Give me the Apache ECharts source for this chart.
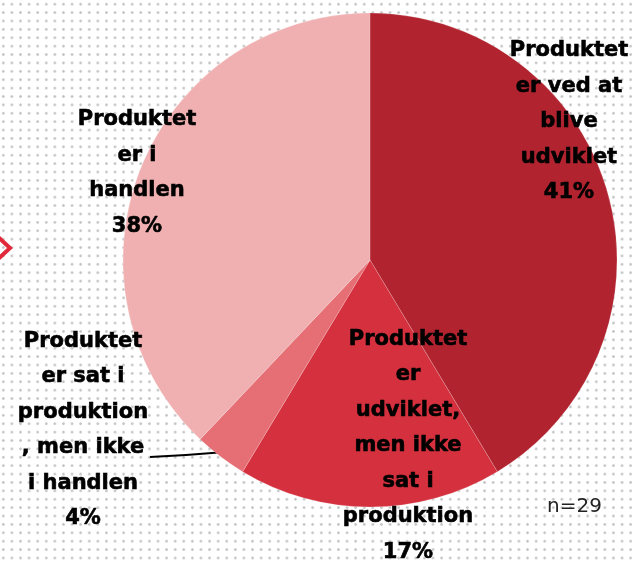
<!DOCTYPE html>
<html>
<head>
<meta charset="utf-8">
<script src="https://cdn.jsdelivr.net/npm/echarts@6/dist/echarts.min.js"></script>
<style>
  html, body { margin: 0; padding: 0; }
  body {
    background-color: #fff;
    background-image: radial-gradient(circle, #c4c4c4 1.1px, transparent 1.5px);
    background-size: 8.6px 8.4px;
    background-position: -1px 0;
  }
  #chart { width: 635px; height: 563px; }
</style>
</head>
<body>
<div id="chart"></div>
<script>
// kategorier og antal svar (n=29)
var categories = [
  'Produktet\ner ved at\nblive\nudviklet',
  'Produktet\ner\nudviklet,\nmen ikke\nsat i\nproduktion',
  'Produktet\ner sat i\nproduktion\n, men ikke\ni handlen',
  'Produktet\ner i\nhandlen'
];
var counts = [12, 5, 1, 11];
var colors = ['#b1232f', '#d4303d', '#e56f74', '#f0b0b1'];
var nText = 'n=29';

// label placering (midte af tekstblok)
var labelPos = [[569, 122], [408, 446], [83, 430], [137, 173]];

var chart = echarts.init(document.getElementById('chart'));

var data = [];
for (var i = 0; i < categories.length; i++) {
  data.push({
    name: categories[i],
    value: counts[i],
    itemStyle: { color: colors[i] },
    labelLine: { show: i === 2 }
  });
}

chart.setOption({
  animation: false,
  graphic: [
    {
      type: 'polyline',
      shape: { points: [[-3, 236], [10, 248], [-3, 260]] },
      style: { stroke: '#e1293b', lineWidth: 4, fill: null }
    },
    {
      type: 'text',
      left: 547, top: 497,
      style: { text: nText, font: '20px "DejaVu Sans"', fill: '#222' }
    }
  ],
  series: [{
    type: 'pie',
    center: [370, 260],
    radius: 247,
    startAngle: 90,
    clockwise: true,
    percentPrecision: 0,
    avoidLabelOverlap: false,
    data: data,
    itemStyle: { borderColor: 'rgba(255,255,255,0.35)', borderWidth: 0.5 },
    label: {
      show: true,
      position: 'outside',
      formatter: '{b}\n{d}%',
      color: '#000',
      fontFamily: 'DejaVu Sans',
      fontWeight: 'bold',
      fontSize: 21,
      lineHeight: 35.5,
      align: 'center',
      overflow: 'none',
      edgeDistance: 0,
      textBorderColor: '#000',
      textBorderWidth: 0.6
    },
    labelLine: {
      lineStyle: { color: '#000', width: 2 }
    },
    emphasis: { disabled: true },
    labelLayout: function (params) {
      var p = labelPos[params.dataIndex];
      var o = { x: p[0], y: p[1], align: 'center', verticalAlign: 'middle' };
      if (params.dataIndex === 2) {
        o.labelLinePoints = [[225, 452], [186, 455], [150, 457]];
      }
      return o;
    }
  }]
});
</script>
</body>
</html>
